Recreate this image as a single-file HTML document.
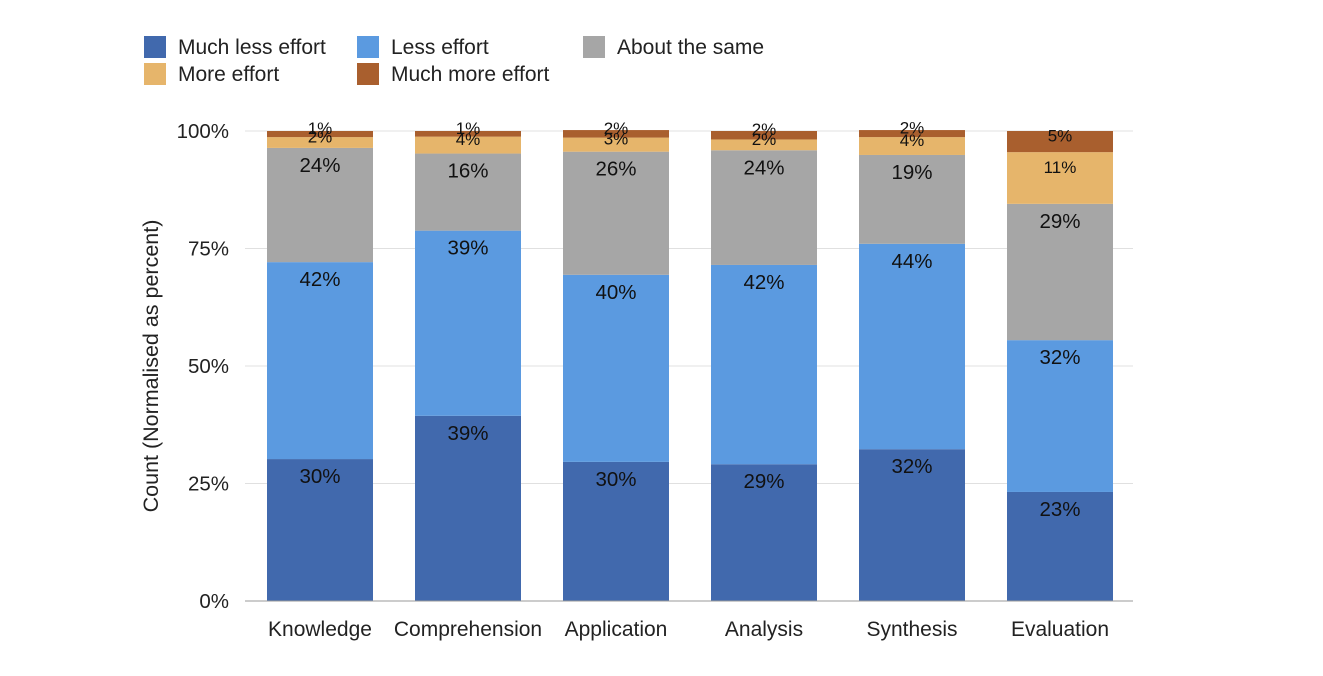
<!DOCTYPE html>
<html><head><meta charset="utf-8"><style>
body{margin:0;background:#fff;font-family:"Liberation Sans",sans-serif;}
</style></head><body>
<svg width="1323" height="671" xmlns="http://www.w3.org/2000/svg" font-family="Liberation Sans, sans-serif">
<g id="legend"></g>
<g id="grid"></g>
<g id="bars"></g>
<g id="labels"></g>
<g id="axes"></g>
<text transform="translate(158,366) rotate(-90)" text-anchor="middle" font-size="21.5" fill="#222">Count (Normalised as percent)</text>
</svg>
<script>
const categories=["Knowledge","Comprehension","Application","Analysis","Synthesis","Evaluation"];
const seriesNames=["Much less effort","Less effort","About the same","More effort","Much more effort"];
const muchLess=[30.2,39.4,29.6,29.1,32.3,23.2];
const less=[41.9,39.4,39.8,42.4,43.7,32.3];
const same=[24.3,16.4,26.2,24.4,18.9,29.0];
const more=[2.3,3.6,3.0,2.3,3.8,11.0];
const muchMore=[1.3,1.2,1.6,1.8,1.5,4.5];
const yTicks=[0,25,50,75,100];
const colors=["#4169ad","#5b9ae0","#a6a6a6","#e6b56b","#a95f2e"];
const series=[muchLess,less,same,more,muchMore];
const NS="http://www.w3.org/2000/svg";
function mk(t,a,p,txt){const e=document.createElementNS(NS,t);for(const k in a)e.setAttribute(k,a[k]);if(txt!==undefined)e.textContent=txt;p.appendChild(e);return e;}
const x0=245,x1=1133,yB=601,yT=131;
function y(v){return yB-(yB-yT)*v/100;}
function xc(i){return 320+148*i;}
const bw=106;
const grid=document.getElementById('grid'),axes=document.getElementById('axes');
yTicks.forEach(t=>{
 const l=mk('line',{x1:x0,x2:x1,y1:y(t),y2:y(t),stroke:t===0?'#999':'#e0e0e0','stroke-width':1},t===0?axes:grid);
 
 
 const tx=mk('text',{x:229,y:y(t)+7,'text-anchor':'end','font-size':20.5,fill:'#222'},axes,t+'%');
 
 
});
const bars=document.getElementById('bars'),labels=document.getElementById('labels');
categories.forEach((c,i)=>{
 const tx=mk('text',{x:xc(i),y:636,'text-anchor':'middle','font-size':21,fill:'#222'},axes,c);
 
 
 let cum=0;
 series.forEach((s,j)=>{
  const v=s[i];const top=y(cum+v),bot=y(cum);cum+=v;
  const h=bot-top;
  const r=mk('rect',{x:xc(i)-bw/2,y:top,width:bw,height:h,fill:colors[j]},bars);
  
  
  const small=h<60;
  const ly=small?(h<30?top+h/2-6:top+15):top+17;
  const lt=mk('text',{x:xc(i),y:ly+(small?6:7),'text-anchor':'middle','font-size':small?17:20.5,fill:'#111'},labels,Math.round(v)+'%');
  
  
 });
});
const leg=document.getElementById('legend');
const lpos=[[144,36],[357,36],[583,36],[144,63],[357,63]];
seriesNames.forEach((n,j)=>{
 const g=mk('g',{},leg);
 
 
 mk('rect',{x:lpos[j][0],y:lpos[j][1],width:22,height:22,fill:colors[j]},g);
 mk('text',{x:lpos[j][0]+34,y:lpos[j][1]+18,'font-size':21,fill:'#222'},g,n);
});
</script>
</body></html>
